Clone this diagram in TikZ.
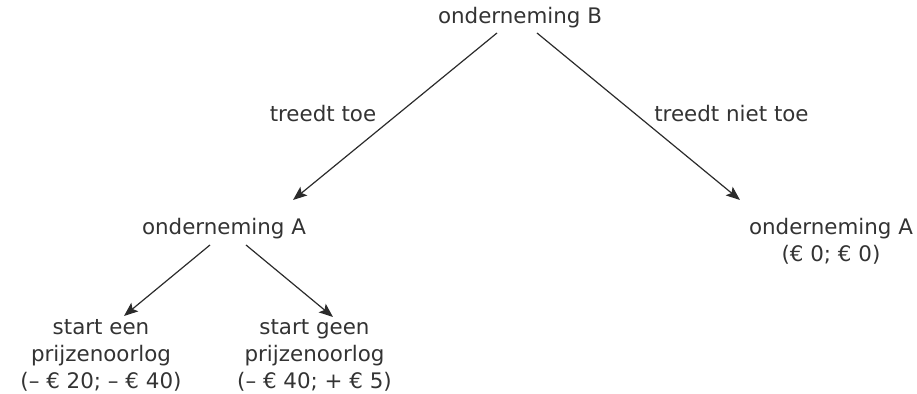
\documentclass[tikz,border=0pt]{standalone}
\usepackage{fontspec}
\setmainfont{DejaVu Sans}
\usetikzlibrary{arrows.meta}
\usetikzlibrary{calc}
\definecolor{inkgray}{HTML}{333333}
\tikzset{tekst/.style = {inner sep=0pt, anchor=base, text=inkgray, align=center,
                         font=\fontsize{10.7}{13.5}\selectfont}}
\tikzset{pijl/.style = {draw=inkgray!85!black, line width=0.6pt,
                        -{Stealth[length=7pt,width=5.5pt,inset=1.5pt]}}}

\begin{document}
\begin{tikzpicture}[x=0.5pt,y=-0.5pt]
            \useasboundingbox (0,0) rectangle (917,394);
            % base of a multi-line node = baseline of its last line
            \node[tekst] (B) at (520,24) {onderneming B};
            \node[tekst] (toe) at (323,122) {treedt toe};
            \node[tekst] (niettoe) at (731.5,122) {treedt niet toe};
            \node[tekst] (Al) at (224,235) {onderneming A};
            \node[tekst] (Ar) at (831,262) {onderneming A\\(€ 0; € 0)};
            \node[tekst] (oorlog) at (101,389) {start een\\prijzenoorlog\\(– € 20; – € 40)};
            \node[tekst] (geenoorlog) at (314.5,389) {start geen\\prijzenoorlog\\(– € 40; + € 5)};
            \draw[pijl] ($(B.base)+(-23,9)$) -- ($(Al.base)+(69,-35)$);
            \draw[pijl] ($(B.base)+(17,9)$) -- ($(Ar.base)+(-91,-62)$);
            \draw[pijl] ($(Al.base)+(-14,10)$) -- ($(oorlog.base)+(23,-73)$);
            \draw[pijl] ($(Al.base)+(22,10)$) -- ($(geenoorlog.base)+(18.5,-72)$);
        \end{tikzpicture}
\end{document}
